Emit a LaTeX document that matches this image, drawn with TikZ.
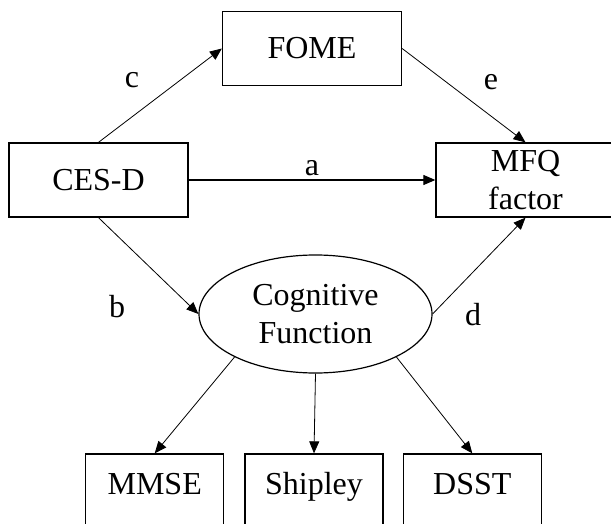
\documentclass[tikz,border=0pt]{standalone}
\usepackage{fontspec}
\setmainfont{Liberation Serif}
\usepackage{tikz}
\usetikzlibrary{arrows.meta,positioning,shapes.geometric}

\begin{document}
\begin{tikzpicture}[
    x=1pt, y=-1pt,
    font=\fontsize{32}{38}\selectfont,
    varbox/.style={draw, line width=1.3pt, align=center, minimum width=179pt, minimum height=74pt, inner sep=0pt},
    testbox/.style={draw, line width=1.3pt, align=center, minimum width=138pt, minimum height=75pt, inner sep=0pt, text height=0.7em, text depth=0.05em},
    latentvar/.style={draw, ellipse, line width=1.2pt, align=center, minimum width=233pt, minimum height=118pt, inner sep=0pt},
    arrow/.style={-{Triangle[length=12pt,width=10pt]}, line width=0.8pt}
]
\useasboundingbox (0,0) rectangle (611,524);
\clip (0,0) rectangle (611,524);

% Observed variables
\node[varbox] (fome) at (312,48.5) {FOME};
\node[varbox] (ces) at (98.5,180) {CES-D};
\node[varbox] (mfq) at (525.5,180) {MFQ\\factor};

% Latent variable
\node[latentvar] (cog) at (315.5,314) {Cognitive\\Function};

% Indicators
\node[testbox] (shipley) at (314,491.5) {Shipley};
\node[testbox, left=20pt of shipley] (mmse) {MMSE};
\node[testbox, right=19pt of shipley] (dsst) {DSST};

% Paths
\draw[arrow] (ces.north) -- (fome.west);
\draw[arrow] (fome.east) -- (mfq.north);
\draw[arrow, line width=1.2pt] (ces.east) -- node[above] {a} (mfq.west);
\draw[arrow] (ces.south) -- (cog.west);
\draw[arrow] (cog.east) -- (mfq.south);

\node (labc) at (132,80) {c};
\node (labe) at (491,82) {e};
\node (labb) at (117,307) {b};
\node (labd) at (473,315) {d};

% Loadings
\draw[arrow] (cog.208) -- (mmse.north);
\draw[arrow] (cog.south) -- (shipley.north);
\draw[arrow] (cog.332) -- (dsst.north);
\end{tikzpicture}
\end{document}
